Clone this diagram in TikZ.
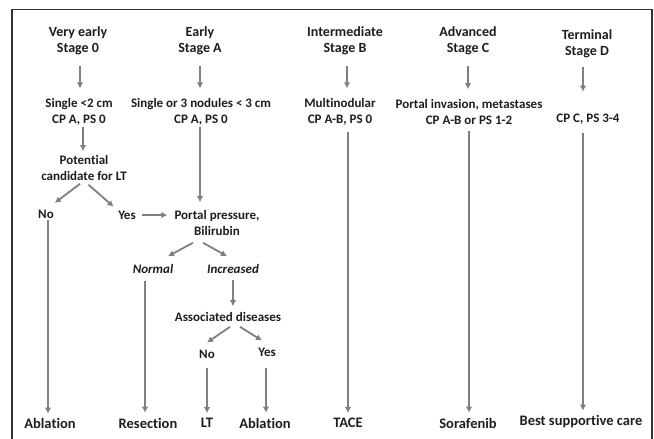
\documentclass[tikz,border=0pt]{standalone}
\usepackage{fontspec}
\setmainfont{Carlito}[Ligatures=NoCommon]
\usetikzlibrary{arrows.meta,calc}
\definecolor{arrgray}{HTML}{808080}
\definecolor{txt}{HTML}{1E1E1E}
\begin{document}
\begin{tikzpicture}[x=1pt,y=-1pt,
  lbl/.style={font=\fontsize{13}{16}\selectfont\bfseries, text=txt, align=center, inner sep=0pt},
  hdr/.style={lbl, font=\fontsize{14}{16}\selectfont\bfseries},
  ilbl/.style={lbl, font=\fontsize{13}{16}\selectfont\bfseries\itshape},
  fin/.style={lbl, font=\fontsize{14.5}{16}\selectfont\bfseries},
  arr/.style={draw=arrgray, line width=1.8pt, -{Latex[length=6pt,width=6.5pt]}},
]
\useasboundingbox (0,0) rectangle (654,439);
\fill[white] (0,0) rectangle (654,439);
\draw[line width=1.2pt, black!80] (12,439) -- (12,9.5) -- (652,9.5) -- (652,439);

% headers
\node[hdr] (h0) at (78,41) {Very early\\Stage 0};
\node[hdr] (hA) at (200,41) {Early\\Stage A};
\node[hdr] (hB) at (345,41) {Intermediate\\Stage B};
\node[hdr] (hC) at (468,41) {Advanced\\Stage C};
\node[hdr] (hD) at (587,44) {Terminal\\Stage D};

% conditions
\node[lbl] (c0) at (79,112) {Single <2 cm\\CP A, PS 0};
\node[lbl] (cA) at (201,112) {Single or 3 nodules < 3 cm\\CP A, PS 0};
\node[lbl] (cB) at (340,112) {Multinodular\\CP A-B, PS 0};
\node[lbl] (cC) at (469,112) {Portal invasion, metastases\\CP A-B or PS 1-2};
\node[lbl] (cD) at (588,119) {CP C, PS 3-4};

\node[lbl] (lt) at (84,168) {Potential\\candidate for LT};
\node[lbl] (no1) at (46,214) {No};
\node[lbl] (yes1) at (127,215) {Yes};
\node[lbl] (pp) at (217,223) {Portal pressure,\\Bilirubin};
\node[ilbl] (nrm) at (153,269) {Normal};
\node[ilbl] (inc) at (233,269) {Increased};
\node[lbl] (ad) at (228,317) {Associated diseases};
\node[lbl] (no2) at (207,354) {No};
\node[lbl] (yes2) at (267,352) {Yes};

% final treatments
\node[fin] (ab1) at (50,423) {Ablation};
\node[fin] (res) at (148,423) {Resection};
\node[fin] (lt2) at (207,423) {LT};
\node[fin] (ab2) at (265,423) {Ablation};
\node[fin] (tace) at (348,423) {TACE};
\node[fin] (sor) at (468,423) {Sorafenib};
\node[fin] (bsc) at (581,422) {Best supportive care};

% header arrows
\draw[arr, shorten <=11pt, shorten >=10pt] ($(h0.south)+(2,0)$) -- ($(h0.south |- c0.north)+(2,0)$);
\draw[arr, shorten <=11pt, shorten >=10pt] (hA.south) -- (hA.south |- cA.north);
\draw[arr, shorten <=11pt, shorten >=10pt] ($(hB.south)+(2,0)$) -- ($(hB.south |- cB.north)+(2,0)$);
\draw[arr, shorten <=11pt, shorten >=10pt] (hC.south) -- (hC.south |- cC.north);
\draw[arr, shorten <=9pt, shorten >=6pt] ($(hD.south)+(-4,0)$) -- ($(hD.south |- cD.north)+(-4,-16)$);

% stage 0 branch
\draw[arr, shorten <=1pt, shorten >=4pt] ($(c0.south)+(4,0)$) -- ($(c0.south |- lt.north)+(4,0)$);
\draw[arr, shorten <=5pt, shorten >=11pt] (lt.south) -- (no1.north);
\draw[arr, shorten <=6pt, shorten >=6pt] (lt.south) -- (yes1.north west);
\draw[arr, shorten <=2pt, shorten >=4pt] ($(no1.south)+(2,0)$) -- ($(no1.south |- ab1.north)+(2,0)$);

% stage A branch
\draw[arr, shorten <=1pt, shorten >=8pt] ($(cA.south)+(-1,0)$) -- ($(cA.south |- pp.north)+(-1,0)$);
\draw[arr, shorten <=6pt, shorten >=7pt] (yes1.east) -- (yes1.east -| pp.west);
\draw[arr] ($(pp.south)+(-24,7)$) -- ($(nrm.north)+(15,-8)$);
\draw[arr] ($(pp.south)+(-14,7)$) -- ($(inc.north)+(-6,-8)$);
\draw[arr, shorten <=7pt, shorten >=5pt] ($(nrm.south)+(-8,0)$) -- ($(nrm.south |- res.north)+(-8,0)$);
\draw[arr, shorten <=6pt, shorten >=6pt] (inc.south) -- (inc.south |- ad.north);
\draw[arr] ($(ad.south)+(2,5)$) -- ($(no2.north)+(0,-7)$);
\draw[arr] ($(ad.south)+(12,5)$) -- ($(yes2.north)+(-5,-7)$);
\draw[arr, shorten <=10pt, shorten >=5pt] (no2.south) -- (no2.south |- lt2.north);
\draw[arr, shorten <=12pt, shorten >=5pt] ($(yes2.south)+(-1,0)$) -- ($(yes2.south |- ab2.north)+(-1,0)$);

% stages B, C, D
\draw[arr, shorten <=6pt, shorten >=5pt] ($(cB.south)+(8,0)$) -- ($(cB.south |- tace.north)+(8,0)$);
\draw[arr, shorten <=6pt, shorten >=5pt] (cC.south) -- (cC.south |- sor.north);
\draw[arr, shorten <=9pt, shorten >=5pt] ($(cD.south)+(-5,0)$) -- ($(cD.south |- bsc.north)+(-5,0)$);
\end{tikzpicture}
\end{document}
